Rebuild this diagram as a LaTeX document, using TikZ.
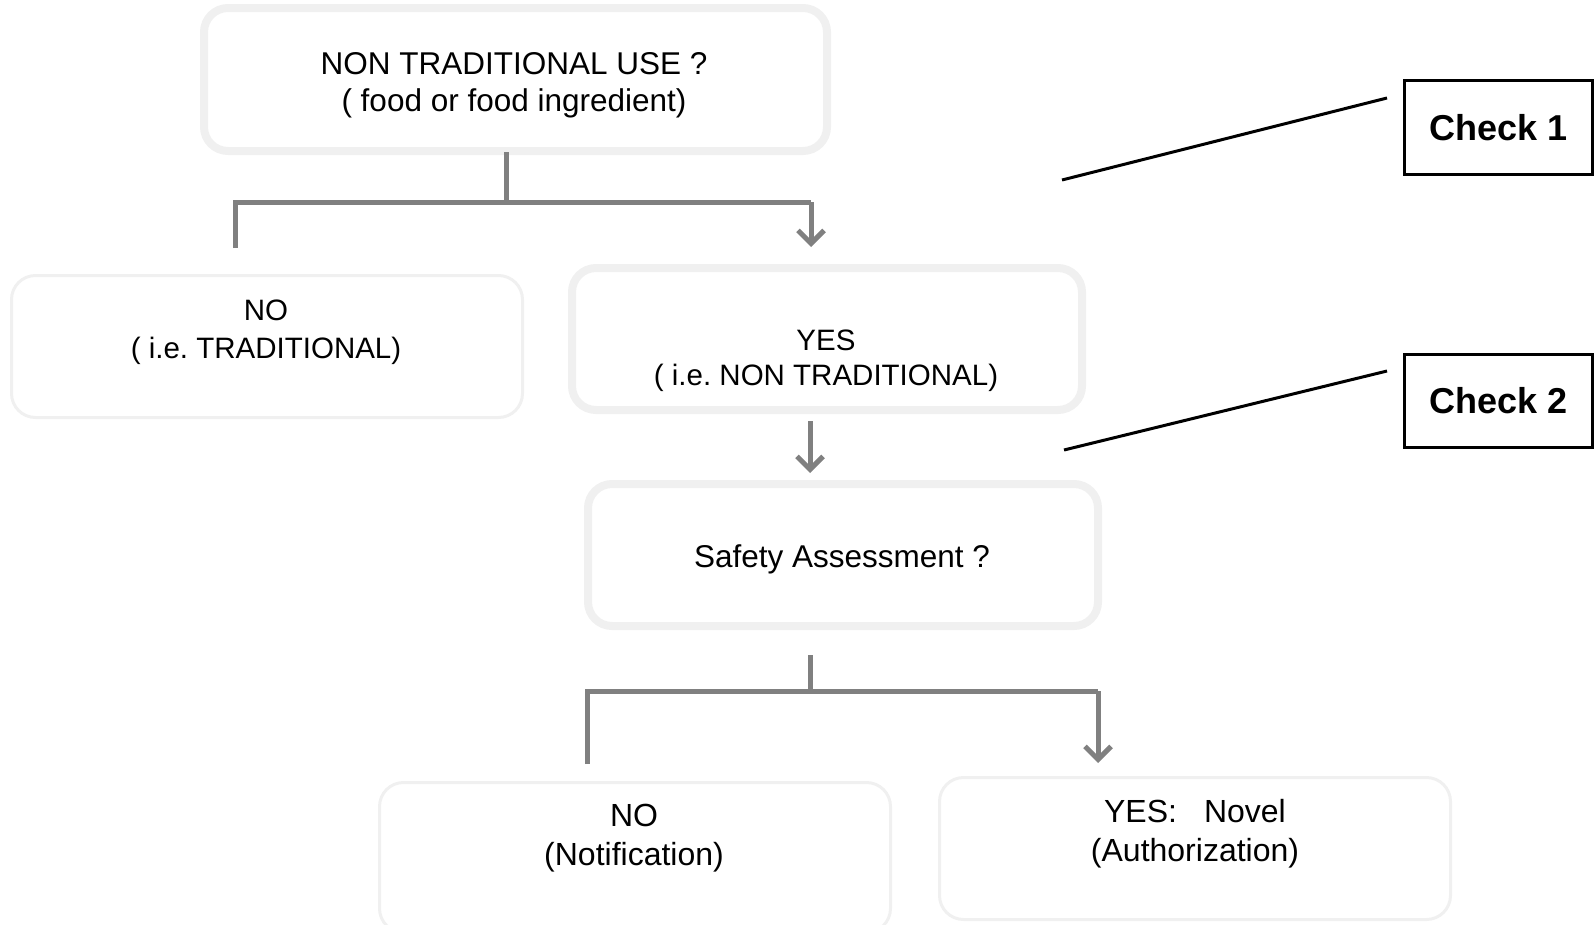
\documentclass[tikz,border=0pt]{standalone}
\usepackage{fontspec}
\setmainfont{Liberation Sans}
\usetikzlibrary{arrows.meta,calc}
\definecolor{boxline}{RGB}{240,240,240}
\definecolor{connline}{RGB}{128,128,128}
\frenchspacing
\begin{document}
\begin{tikzpicture}[x=1pt,y=-1pt,
  thickbox/.style={draw=boxline,line width=8pt,rounded corners=24pt,fill=white,inner sep=0pt},
  thinbox/.style={draw=boxline,line width=3pt,rounded corners=24pt,fill=white,inner sep=0pt},
  txt/.style={align=center,inner sep=0pt},
  conn/.style={draw=connline,line width=5pt},
  arr/.style={conn,-{Straight Barb[length=13pt,width=26pt]}},
  checkbox/.style={draw=black,line width=3pt,inner sep=0pt,font=\bfseries\fontsize{36}{40}\selectfont},
  lead/.style={draw=black,line width=3pt}]
\useasboundingbox (0,0) rectangle (1594,924);

% boxes
\node[thickbox,minimum width=623pt,minimum height=143pt] (top) at (515.5,79.5) {};
\node[txt,font=\fontsize{31.5}{37}\selectfont] (topT) at (514,85.5) {NON TRADITIONAL USE ?\\( food or food ingredient)};

\node[thinbox,minimum width=511pt,minimum height=142pt] (no1) at (267,346.5) {};
\node[txt,font=\fontsize{29.5}{37.5}\selectfont] (no1T) at (266,332) {NO\\( i.e. TRADITIONAL)};

\node[thickbox,minimum width=510pt,minimum height=142pt] (yes1) at (827,339) {};
\node[txt,font=\fontsize{29.5}{35.5}\selectfont] (yes1T) at (826,360.5) {YES\\( i.e. NON TRADITIONAL)};

\node[thickbox,minimum width=510pt,minimum height=142pt] (safe) at (843,555) {};
\node[txt,font=\fontsize{31.5}{37}\selectfont] (safeT) at (842,559) {Safety Assessment ?};

\node[thinbox,minimum width=511pt,minimum height=150pt] (no2) at (635,857.5) {};
\node[txt,font=\fontsize{32}{39}\selectfont] (no2T) at (634,838.5) {NO\\(Notification)};

\node[thinbox,minimum width=511pt,minimum height=142pt] (yes2) at (1195,848.5) {};
\node[txt,font=\fontsize{32}{39}\selectfont] (yes2T) at (1195,833.5) {YES:\hspace{27pt}Novel\\(Authorization)};

% check boxes
\node[checkbox,minimum width=188pt,minimum height=94pt] (c1) at (1498.5,127.5) {Check 1};
\node[checkbox,minimum width=188pt,minimum height=93pt] (c2) at (1498.5,401) {Check 2};

% connectors: first decision
\coordinate (t1) at (506,152);
\coordinate (j1) at (506,202);
\coordinate (jl) at (235,202);
\coordinate (jr) at (811,202);
\coordinate (el) at (235,248);
\coordinate (er) at (811,247);
\draw[conn] (t1) -- (j1);
\draw[conn] (el) -- (jl) -- (jr);
\draw[arr] (jr) -- (er);

% middle arrow
\coordinate (m1) at (810,421);
\coordinate (m2) at (810,473);
\draw[arr] (m1) -- (m2);

% second decision
\coordinate (s1) at (810,655);
\coordinate (k1) at (810,691);
\coordinate (kl) at (587,691);
\coordinate (kr) at (1098,691);
\coordinate (fl) at (587,764);
\coordinate (fr) at (1098,763);
\draw[conn] (s1) -- (k1);
\draw[conn] (fl) -- (kl) -- (kr);
\draw[arr] (kr) -- (fr);

% leader lines
\coordinate (l1a) at (1062,180);
\coordinate (l1b) at (1387,98);
\coordinate (l2a) at (1064,450);
\coordinate (l2b) at (1387,371);
\draw[lead] (l1a) -- (l1b);
\draw[lead] (l2a) -- (l2b);
\end{tikzpicture}
\end{document}
